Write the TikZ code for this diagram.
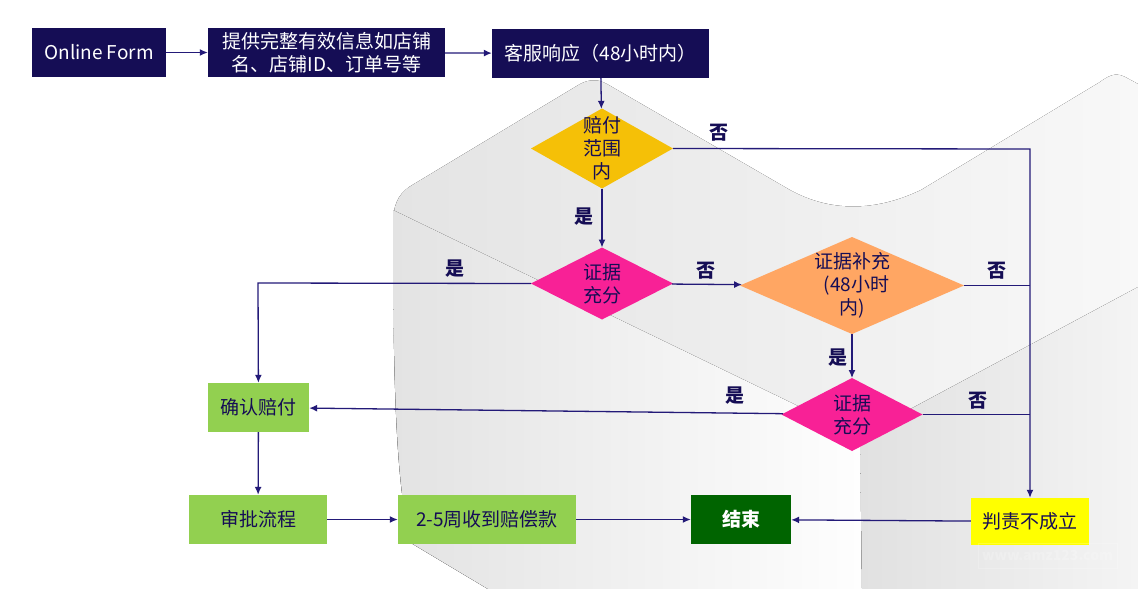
\documentclass[tikz,border=0pt]{standalone}
\usepackage{fontspec}
\setmainfont{Noto Sans CJK SC}
\usetikzlibrary{shapes.geometric,arrows.meta}
\definecolor{navy}{HTML}{150D55}
\definecolor{linecol}{HTML}{231A78}
\definecolor{leaf}{HTML}{92D050}
\definecolor{amber}{HTML}{F5C007}
\definecolor{rose}{HTML}{F82196}
\definecolor{peach}{HTML}{FFA663}
\definecolor{forest}{HTML}{006400}
\definecolor{lemon}{HTML}{FFFF00}
\definecolor{shadea}{HTML}{E4E4E4}
\definecolor{shadeb}{HTML}{F8F8F8}
\definecolor{shadec}{HTML}{E3E3E3}
\definecolor{shaded}{HTML}{FEFEFE}
\definecolor{shadee}{HTML}{E1E1E1}
\definecolor{shadef}{HTML}{F4F4F4}
\tikzstyle{arrow}=[-{Latex[length=8pt,width=7pt]},draw=linecol,line width=1.3pt]
\tikzstyle{line}=[draw=linecol,line width=1.3pt]
\tikzstyle{plain}=[font=\fontsize{19}{23}\selectfont]
\tikzstyle{darkbox}=[plain,rectangle,fill=navy,text=white,inner sep=0pt,align=center,minimum height=49pt]
\tikzstyle{greenbox}=[plain,rectangle,fill=leaf,text=navy,inner sep=0pt,align=center,minimum height=49pt]
\tikzstyle{decision}=[diamond,inner sep=0pt,outer sep=0pt,aspect=1]
\tikzstyle{inside}=[plain,text=navy,align=center,inner sep=0pt]
\tikzstyle{answer}=[text=navy,inner sep=0pt,font=\fontsize{19}{20}\selectfont\bfseries]
\begin{document}
\begin{tikzpicture}[x=1pt,y=-1pt]
	\useasboundingbox (0,0) rectangle (1138,589);
	\fill[white] (0,0) rectangle (1138,589);

	\fill[left color=shadea,right color=shadeb]
		(393,225) .. controls (393,205) and (398,195) .. (409,187)
		-- (580,84) .. controls (590,79) and (598,79) .. (607,84)
		-- (790,190) .. controls (830,212) and (875,212) .. (921,190)
		-- (1100,82) .. controls (1112,73) and (1118,73) .. (1127,78) -- (1138,84)
		-- (1138,589) -- (488,589) -- (411,543) .. controls (397,490) and (393,400) .. (393,225) -- cycle;
	\fill[left color=shadec,right color=shaded]
		(393,210) -- (860,436) -- (862,589) -- (488,589) -- (411,543) .. controls (397,490) and (393,400) .. (393,210) -- cycle;
	\fill[left color=shadee,right color=shadef] (860,436) -- (1138,287) -- (1138,589) -- (862,589) -- cycle;

	\node[darkbox,minimum width=134pt] (form) at (99,52.5) {Online Form};
	\node[darkbox,minimum width=237pt] (info) at (326.5,52.5) {提供完整有效信息如店铺\\名、店铺ID、订单号等};
	\node[darkbox,minimum width=217pt] (service) at (600.5,53.5) {客服响应（48小时内）};
	\node[decision,fill=amber,minimum width=142pt,minimum height=80pt,label={[inside]center:赔付\\范围\\内}] (scope) at (602,148.5) {};
	\node[decision,fill=rose,minimum width=142pt,minimum height=72pt,label={[inside]center:证据\\充分}] (proof) at (602,283.5) {};
	\node[decision,fill=peach,minimum width=224pt,minimum height=97pt,label={[inside]center:证据补充\\\hspace{9pt}(48小时\\内)}] (extra) at (852,285.5) {};
	\node[decision,fill=rose,minimum width=141pt,minimum height=73pt,label={[inside]center:证据\\充分}] (proofb) at (852,414.5) {};
	\node[greenbox,minimum width=101pt] (confirm) at (258.5,407.5) {确认赔付};
	\node[greenbox,minimum width=138pt] (audit) at (258,519.5) {审批流程};
	\node[greenbox,minimum width=178pt] (refund) at (487,519.5) {2-5周收到赔偿款};
	\node[rectangle,fill=forest,text=white,font=\fontsize{19}{23}\selectfont\bfseries,minimum width=100pt,minimum height=49pt,inner sep=0pt] (finish) at (741,519.5) {结束};
	\node[plain,rectangle,fill=lemon,text=navy,minimum width=118pt,minimum height=47pt,inner sep=0pt] (reject) at (1030,521.5) {判责不成立};
	\node[rectangle,draw=white,opacity=.2,text=white,font=\fontsize{14}{16}\selectfont\bfseries,minimum width=139pt,minimum height=25pt,inner sep=0pt] (mark) at (1047.5,555.5) {www.amz123.com};

	\coordinate (corner) at (258,283);
	\coordinate (drop) at (1030,149);

	\node[answer] (no1) at (719,133) {否};
	\node[answer] (yes1) at (584,217) {是};
	\node[answer] (yes2) at (455,269) {是};
	\node[answer] (no2) at (706,271) {否};
	\node[answer] (no3) at (997,271) {否};
	\node[answer] (yes3) at (838,358) {是};
	\node[answer] (yes4) at (735,396) {是};
	\node[answer] (no4) at (978,401) {否};

	\path[arrow] (form) -- (info);
	\path[arrow] (info) -- (service);
	\path[arrow] (service) -- (scope);
	\path[arrow] (scope) -- (proof);
	\path[arrow] (proof) -- (extra);
	\path[arrow] (extra) -- (proofb);
	\path[arrow] (proofb) -- (confirm);
	\path[arrow] (proof.west) -- (corner) -- (confirm);
	\path[arrow] (confirm) -- (audit);
	\path[arrow] (audit) -- (refund);
	\path[arrow] (refund) -- (finish);
	\path[arrow] (reject) -- (finish);
	\path[arrow] (scope.east) -- (drop) -- (reject);
	\path[line] (extra.east) -- (extra.east -| drop);
	\path[line] (proofb.east) -- (proofb.east -| drop);
\end{tikzpicture}
\end{document}
